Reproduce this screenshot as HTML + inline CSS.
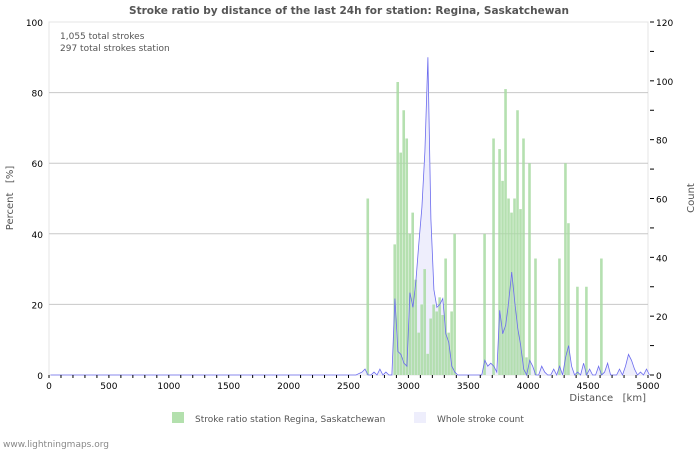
<!DOCTYPE html>
<html><head><meta charset="utf-8"><style>
body{margin:0;background:#fff;font-family:"DejaVu Sans","Liberation Sans",sans-serif;}
svg text{font-family:"DejaVu Sans","Liberation Sans",sans-serif;white-space:pre;}
</style></head><body>
<svg id="chart" width="700" height="450" xmlns="http://www.w3.org/2000/svg">
<rect width="700" height="450" fill="#fff"/>
<text x="349" y="14" text-anchor="middle" font-size="10.5" font-weight="bold" fill="#555">Stroke ratio by distance of the last 24h for station: Regina, Saskatchewan</text>
<g id="grid"></g><g id="bars"></g><g id="countg"></g><g id="axes"></g>
<text x="60" y="39" font-size="9" fill="#555">1,055 total strokes</text>
<text x="60" y="51" font-size="9" fill="#555">297 total strokes station</text>
<text transform="translate(13,198) rotate(-90)" text-anchor="middle" font-size="10" fill="#555">Percent   [%]</text>
<text transform="translate(694,198) rotate(-90)" text-anchor="middle" font-size="10" fill="#555">Count</text>
<text x="646" y="401" text-anchor="end" font-size="10" fill="#555">Distance   [km]</text>
<rect x="172" y="412" width="12" height="11" fill="#b3e0ad"/>
<text x="195" y="422" font-size="9" fill="#555">Stroke ratio station Regina, Saskatchewan</text>
<rect x="414" y="412" width="12" height="11" fill="#eeeefc"/>
<text x="437" y="422" font-size="9" fill="#555">Whole stroke count</text>
<text x="3" y="447" font-size="9" fill="#888">www.lightningmaps.org</text>
</svg>
<script>
const ratioKm=[2650,2875,2900,2925,2950,2975,3000,3025,3050,3075,3100,3125,3150,3175,3200,3225,3250,3275,3300,3325,3350,3375,3625,3700,3750,3775,3800,3825,3850,3875,3900,3925,3950,3975,4000,4050,4250,4300,4325,4400,4475,4600];
const ratioPct=[50,37,83,63,75,67,40,46,27,12,20,30,6,16,20,18,22,17,33,12,18,40,40,67,64,55,81,50,46,50,75,47,67,5,60,33,33,60,43,25,25,33];
const countKm=[0,2550,2600,2625,2650,2675,2700,2725,2750,2775,2800,2825,2850,2875,2900,2925,2950,2975,3000,3025,3050,3075,3100,3125,3150,3175,3200,3225,3250,3275,3300,3325,3350,3375,3400,3425,3600,3625,3650,3675,3700,3725,3750,3775,3800,3825,3850,3875,3900,3925,3950,3975,4000,4025,4050,4075,4100,4125,4150,4175,4200,4225,4250,4275,4300,4325,4350,4375,4400,4425,4450,4475,4500,4525,4550,4575,4600,4625,4650,4675,4700,4725,4750,4775,4800,4825,4850,4875,4900,4925,4950,4975,5000];
const countVals=[0,0,1,2,0,0,1,0,2,0,1,0,0,26,8,7,4,3,28,23,32,45,57,76,108,53,29,23,24,26,14,11,3,1,0,0,0,5,3,4,3,1,22,14,17,25,35,25,16,10,2,0,5,3,0,0,3,1,0,0,2,0,3,0,6,10,3,0,1,0,4,0,2,0,0,3,0,1,4,0,0,0,2,0,3,7,5,2,0,1,0,2,0];
const yTicks=[0,20,40,60,80,100];
const y2Ticks=[0,20,40,60,80,100,120];
const xTicks=[0,500,1000,1500,2000,2500,3000,3500,4000,4500,5000];
const NS="http://www.w3.org/2000/svg";
const L=49,R=648,T=22,B=375;
const xs=k=>L+(k/5000)*(R-L);
const ys=p=>B-(p/100)*(B-T);
const y2s=c=>B-(c/120)*(B-T);
function mk(tag,attrs,parent){const e=document.createElementNS(NS,tag);for(const k in attrs)e.setAttribute(k,attrs[k]);parent.appendChild(e);return e;}
const grid=document.getElementById('grid'),axes=document.getElementById('axes'),bars=document.getElementById('bars'),cg=document.getElementById('countg');
mk('rect',{x:L,y:T,width:R-L,height:B-T,fill:'none',stroke:'#e4e4e4'},grid);
yTicks.forEach(v=>{
 if(v>0&&v<100){const g=mk('line',{x1:L,x2:R,y1:ys(v),y2:ys(v),stroke:'#c8c8c8'},grid);
 
 }
 const t=mk('text',{x:L-6,y:ys(v)+4,'text-anchor':'end','font-size':9,fill:'#000'},axes);t.textContent=v;
 
 
});
for(let c=0;c<=120;c+=10){mk('line',{x1:R+2,x2:R+6,y1:y2s(c),y2:y2s(c),stroke:'#000'},axes);}
y2Ticks.forEach(v=>{const t=mk('text',{x:R+8,y:y2s(v)+4,'font-size':9,fill:'#000'},axes);t.textContent=v;
 
 });
for(let k=0;k<=5000;k+=100){mk('line',{x1:xs(k),x2:xs(k),y1:B,y2:B+3,stroke:'#000'},axes);}
xTicks.forEach(v=>{const t=mk('text',{x:xs(v),y:B+14,'text-anchor':'middle','font-size':9,fill:'#000'},axes);t.textContent=v;
 
 });
let pts=countKm.map((k,i)=>xs(k+12.5).toFixed(1)+','+y2s(countVals[i]).toFixed(1));
const area=mk('polygon',{points:xs(12.5)+','+B+' '+pts.join(' ')+' '+xs(5012.5)+','+B,fill:'#eeeefc'},cg);


ratioKm.forEach((k,i)=>{const r=mk('rect',{x:xs(k),y:ys(ratioPct[i]),width:2.6,height:B-ys(ratioPct[i]),fill:'#a8dba2','fill-opacity':0.85},bars);
 
 });
cg.parentNode.insertBefore(cg,bars);
const line=mk('polyline',{points:pts.join(' '),fill:'none',stroke:'#6b6bee','stroke-width':0.8},document.getElementById('chart'));
document.getElementById('chart').insertBefore(line,axes);


</script>
</body></html>
